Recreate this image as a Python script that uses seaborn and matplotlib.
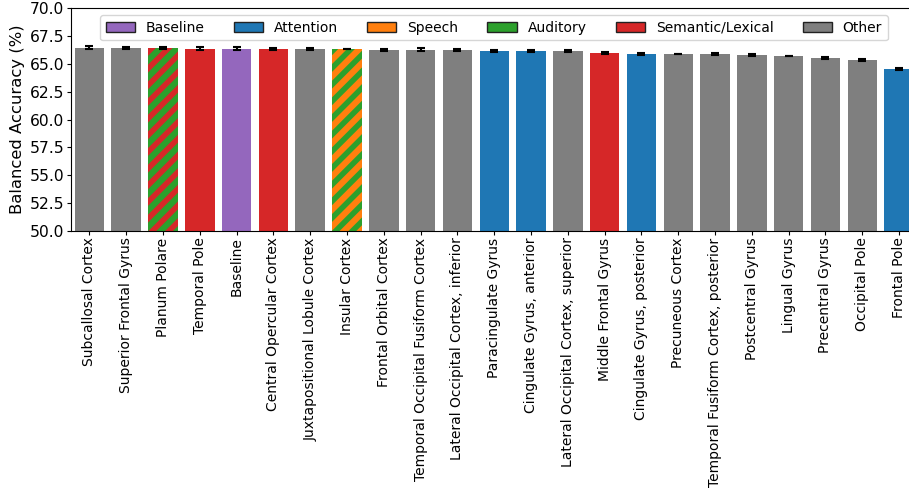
import matplotlib
matplotlib.use("Agg")
import matplotlib.pyplot as plt
from matplotlib.patches import Patch
import seaborn as sns
import pandas as pd

regions = [
    "Subcallosal Cortex", "Superior Frontal Gyrus", "Planum Polare", "Temporal Pole",
    "Baseline", "Central Opercular Cortex", "Juxtapositional Lobule Cortex", "Insular Cortex",
    "Frontal Orbital Cortex", "Temporal Occipital Fusiform Cortex",
    "Lateral Occipital Cortex, inferior", "Paracingulate Gyrus", "Cingulate Gyrus, anterior",
    "Lateral Occipital Cortex, superior", "Middle Frontal Gyrus", "Cingulate Gyrus, posterior",
    "Precuneous Cortex", "Temporal Fusiform Cortex, posterior", "Postcentral Gyrus",
    "Lingual Gyrus", "Precentral Gyrus", "Occipital Pole", "Frontal Pole",
]
accuracy = [66.45, 66.44, 66.43, 66.38, 66.38, 66.37, 66.36, 66.34, 66.27, 66.27, 66.26,
            66.17, 66.17, 66.17, 65.98, 65.90, 65.89, 65.89, 65.80, 65.71, 65.53, 65.35, 64.54]
sem = [0.12, 0.08, 0.12, 0.12, 0.12, 0.10, 0.10, 0.04, 0.08, 0.13, 0.07,
       0.12, 0.08, 0.07, 0.06, 0.08, 0.04, 0.08, 0.05, 0.04, 0.12, 0.09, 0.12]
category = ["Other", "Other", "Auditory", "Semantic/Lexical", "Baseline", "Semantic/Lexical",
            "Other", "Speech", "Other", "Other", "Other", "Attention", "Attention", "Other",
            "Semantic/Lexical", "Attention", "Other", "Other", "Other", "Other", "Other",
            "Other", "Attention"]
second_category = [None, None, "Semantic/Lexical", None, None, None, None, "Auditory",
                   None, None, None, None, None, None, None, None, None, None, None, None,
                   None, None, None]

legend_order = ["Baseline", "Attention", "Speech", "Auditory", "Semantic/Lexical", "Other"]
palette = {
    "Baseline": "#9467bd",
    "Attention": "#1f77b4",
    "Speech": "#ff7f0e",
    "Auditory": "#2ca02c",
    "Semantic/Lexical": "#d62728",
    "Other": "#7f7f7f",
}

plt.rcParams["font.family"] = ["DejaVu Sans"]
plt.rcParams["hatch.linewidth"] = 4.0

df = pd.DataFrame({"region": regions, "acc": accuracy, "sem": sem, "cat": category})

fig = plt.figure(figsize=(9.09, 4.90), dpi=100)
ax = fig.add_axes([0.0781, 0.5292, 1.0093 - 0.0781, 0.983 - 0.5292])

bar_colors = [palette[c] for c in category]
sns.barplot(data=df, x="region", y="acc", hue="region", palette=bar_colors,
            legend=False, ax=ax, width=0.8, saturation=1, errorbar=None)

for bar, sec in zip(ax.patches, second_category):
    bar.set_linewidth(0)
    if sec is not None:
        bar.set_hatch("//")
        bar.set_edgecolor(palette[sec])

ax.errorbar(range(len(regions)), accuracy, yerr=sem, fmt="none", ecolor="black",
            elinewidth=1.5, capsize=3, capthick=1.5, zorder=3)

yt = [50, 52.5, 55, 57.5, 60, 62.5, 65, 67.5, 70]
ax.set_ylim(50, 70)
ax.set_xlim(-0.5, len(regions) - 0.5)
ax.set_yticks(yt)
ax.set_yticklabels([f"{v:.1f}" for v in yt])
ax.tick_params(axis="both", length=2.6, width=0.8, pad=2.3, colors="black")
ax.tick_params(axis="y", labelsize=11.2)
ax.tick_params(axis="x", labelsize=10, rotation=90)
ax.set_xlabel("")
ax.set_ylabel("Balanced Accuracy (%)", fontsize=11.8, labelpad=3)

handles = [Patch(facecolor=palette[c], edgecolor="#222222", linewidth=1, label=c)
           for c in legend_order]
ax.legend(handles=handles, loc="upper center", ncol=6, fontsize=10,
          bbox_to_anchor=((494 - 71) / (917.4 - 71), 1.0), columnspacing=2.09,
          handlelength=2.09)

fig.savefig("out.png", dpi=100)
